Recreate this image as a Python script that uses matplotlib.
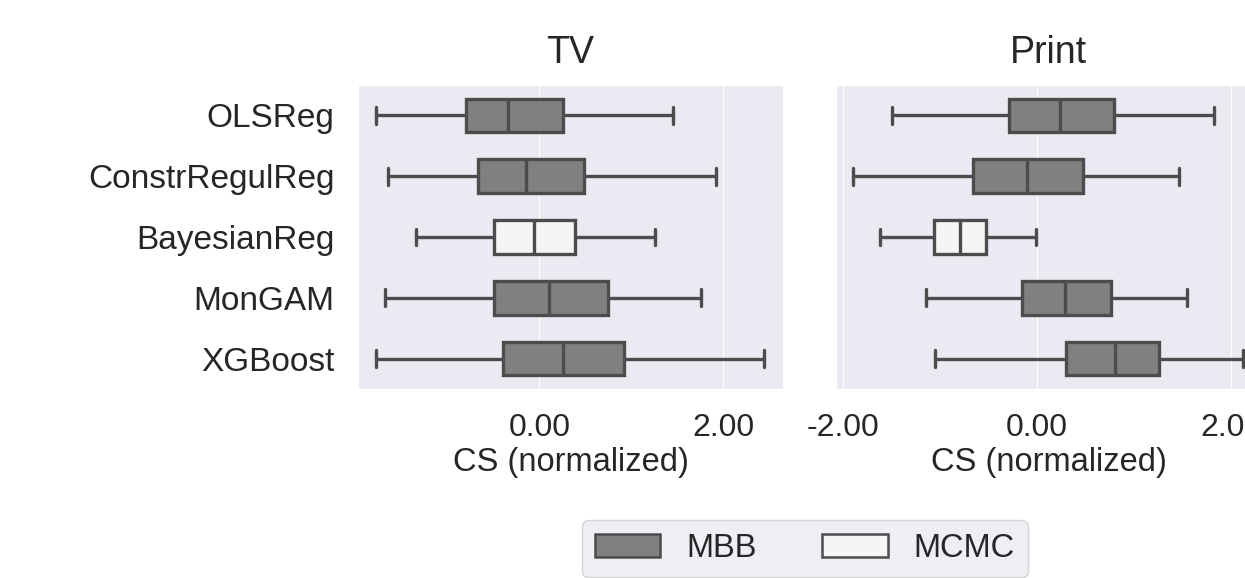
import matplotlib
matplotlib.use("Agg")
from matplotlib import pyplot as plt
from matplotlib.patches import Patch
import seaborn as sns

# model names (rows) and which method produced each box
models = ['OLSReg', 'ConstrRegulReg', 'BayesianReg', 'MonGAM', 'XGBoost']
methods = ['MBB', 'MBB', 'MCMC', 'MBB', 'MBB']

# TV channel, box summaries
tv_whislo = [-1.78, -1.64, -1.34, -1.68, -1.78]
tv_q1 = [-0.80, -0.67, -0.49, -0.49, -0.40]
tv_med = [-0.34, -0.14, -0.06, 0.10, 0.26]
tv_q3 = [0.26, 0.49, 0.39, 0.75, 0.92]
tv_whishi = [1.45, 1.92, 1.26, 1.76, 2.44]
tv_ticks = [0, 2]

# Print channel, box summaries
print_whislo = [-1.49, -1.89, -1.62, -1.14, -1.05]
print_q1 = [-0.29, -0.66, -1.06, -0.15, 0.30]
print_med = [0.24, -0.10, -0.79, 0.29, 0.80]
print_q3 = [0.79, 0.47, -0.52, 0.76, 1.26]
print_whishi = [1.83, 1.46, -0.01, 1.55, 2.12]
print_ticks = [-2, 0, 2]

method_colors = {'MBB': '#808080', 'MCMC': '#f5f5f5'}
line_color = '#4c4c4c'

sns.set_style('darkgrid')
plt.rcParams['font.family'] = ['Liberation Sans', 'DejaVu Sans']


def make_stats(whislo, q1, med, q3, whishi):
    stats = []
    for i in range(len(models)):
        stats.append({'whislo': whislo[i], 'q1': q1[i], 'med': med[i],
                      'q3': q3[i], 'whishi': whishi[i], 'fliers': [],
                      'label': models[i]})
    return stats


def draw_panel(ax, stats, title, xlim, ticks):
    lw = 2.4
    parts = ax.bxp(stats, positions=range(len(stats)), widths=0.55,
                   orientation='horizontal', patch_artist=True,
                   showfliers=False,
                   boxprops={'edgecolor': line_color, 'linewidth': lw},
                   whiskerprops={'color': line_color, 'linewidth': lw},
                   capprops={'color': line_color, 'linewidth': lw},
                   medianprops={'color': line_color, 'linewidth': lw})
    for box, m in zip(parts['boxes'], methods):
        box.set_facecolor(method_colors[m])
    ax.set_xlim(*xlim)
    ax.set_ylim(len(stats) - 0.5, -0.5)
    ax.set_xticks(ticks)
    ax.set_xticklabels(['%.2f' % v for v in ticks])
    ax.yaxis.grid(False)
    ax.tick_params(axis='x', labelsize=23, pad=17, length=0)
    ax.tick_params(axis='y', labelsize=24, pad=17, length=0)
    ax.set_title(title, fontsize=27, pad=16)
    ax.set_xlabel('CS (normalized)', fontsize=23.5, labelpad=3)


fig = plt.figure(figsize=(12.45, 5.78), dpi=100)
ax_tv = fig.add_axes([0.2876, 0.327, 0.3414, 0.526])
ax_print = fig.add_axes([0.6715, 0.327, 0.3414, 0.526])

draw_panel(ax_tv, make_stats(tv_whislo, tv_q1, tv_med, tv_q3, tv_whishi),
           'TV', (-1.97, 2.65), tv_ticks)
draw_panel(ax_print, make_stats(print_whislo, print_q1, print_med, print_q3, print_whishi),
           'Print', (-2.07, 2.31), print_ticks)
ax_print.set_yticklabels([])

handles = [Patch(facecolor=method_colors[m], edgecolor=line_color, linewidth=1.8, label=m)
           for m in ['MBB', 'MCMC']]
fig.legend(handles=handles, loc='upper center', bbox_to_anchor=(0.6466, 0.1003),
           ncol=2, fontsize=23.5, borderaxespad=0)

plt.savefig('out.png', dpi=100)
